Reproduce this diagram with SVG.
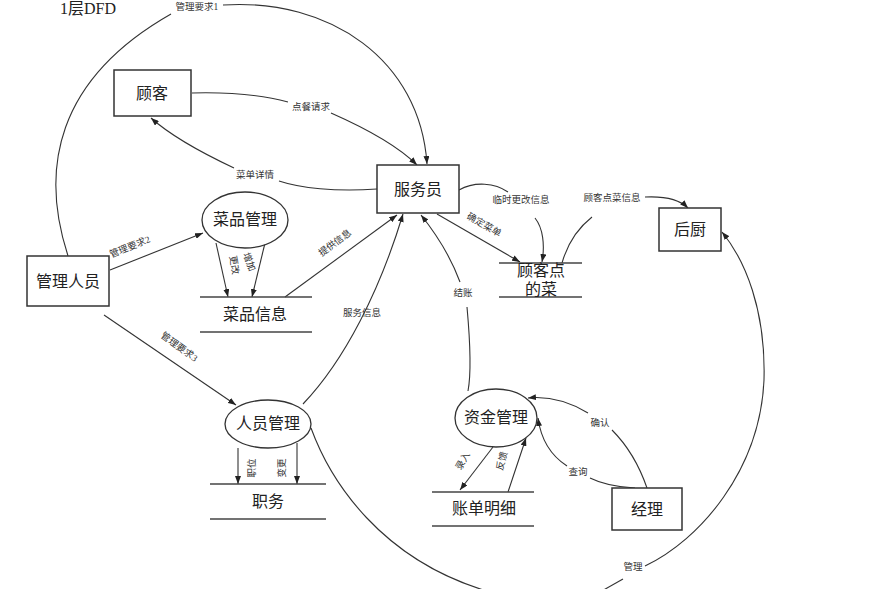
<svg xmlns="http://www.w3.org/2000/svg" width="879" height="589" viewBox="0 0 879 589">
  <defs>
    <marker id="arrow" viewBox="0 0 8 6" markerWidth="8" markerHeight="6" refX="8" refY="3" orient="auto" markerUnits="userSpaceOnUse">
      <path d="M0,0 L8,3 L0,6 z" fill="#222"/>
    </marker>
  </defs>
  <style>
    .bg { fill: #ffffff; }
    .box { fill: #ffffff; stroke: #333333; stroke-width: 1.5; }
    .proc { fill: #ffffff; stroke: #333333; stroke-width: 1.3; }
    .store { stroke: #444444; stroke-width: 1.6; }
    .flow { fill: none; stroke: #333333; stroke-width: 1.1; }
    .arr { marker-end: url(#arrow); }
    .name { font-family: "Liberation Serif", "Noto Sans CJK SC", serif; font-size: 16px; fill: #222222; text-anchor: middle; dominant-baseline: central; }
    .lbl { font-family: "Liberation Serif", "Noto Sans CJK SC", serif; font-size: 9.5px; fill: #333333; text-anchor: middle; dominant-baseline: central; }
    .title { font-family: "Liberation Serif", "Noto Sans CJK SC", serif; font-size: 16px; fill: #222222; }
  </style>

  <rect class="bg" x="0" y="0" width="879" height="589"/>
  <text class="title" x="60" y="14">1层DFD</text>

  <!-- connectors -->
  <g id="connectors">
    <!-- 管理要求1 -->
    <path class="flow" d="M68,256 C40,170 55,80 171,14"/>
    <path class="flow arr" d="M223,5 C330,-2 420,60 427,164"/>
    <!-- 点餐请求 -->
    <path class="flow" d="M192,93 C230,92 262,95 288,102"/>
    <path class="flow arr" d="M331,113 C365,128 397,145 417,165"/>
    <!-- 菜单详情 -->
    <path class="flow" d="M377,189 C335,192 300,188 279,181"/>
    <path class="flow arr" d="M234,168 C200,152 170,135 151,118"/>
    <!-- 临时更改信息 -->
    <path class="flow" d="M459,190 C475,181 495,183 508,192"/>
    <path class="flow arr" d="M535,218 C543,228 545,245 542,262"/>
    <!-- 顾客点菜信息 -->
    <path class="flow" d="M562,263 C568,242 578,228 592,217"/>
    <path class="flow arr" d="M645,197 C665,196 680,200 688,208"/>
    <!-- 确定菜单 -->
    <path class="flow arr" d="M437,214 L520,262"/>
    <!-- 提供信息 -->
    <path class="flow arr" d="M285,297 L397,215"/>
    <!-- 服务信息 -->
    <path class="flow arr" d="M303,404 C345,360 380,290 403,214"/>
    <!-- 管理要求2 / 管理要求3 -->
    <path class="flow arr" d="M110,270 L203,233"/>
    <path class="flow arr" d="M104,315 L236,405"/>
    <!-- 菜品管理 to 菜品信息 -->
    <path class="flow arr" d="M216,243 L228,297"/>
    <path class="flow arr" d="M265,243 L252,297"/>
    <!-- 人员管理 to 职务 -->
    <path class="flow arr" d="M238,448 L238,484"/>
    <path class="flow arr" d="M297,443 L297,484"/>
    <!-- 管理 -->
    <path class="flow" d="M311,428 C330,480 380,560 490,592"/>
    <path class="flow" d="M600,592 L623,579"/>
    <path class="flow arr" d="M645,566 C700,540 760,470 764,380 C766,310 745,260 722,232"/>
    <!-- 结账 -->
    <path class="flow" d="M468,391 C472,370 470,340 467,307"/>
    <path class="flow arr" d="M460,282 C450,255 437,235 421,215"/>
    <!-- 录入 / 反馈 -->
    <path class="flow arr" d="M493,447 L460,490"/>
    <path class="flow arr" d="M508,492 L526,438"/>
    <!-- 确认 -->
    <path class="flow" d="M647,488 C638,462 625,443 612,430"/>
    <path class="flow arr" d="M588,413 C568,401 548,396 528,398"/>
    <!-- 查询 -->
    <path class="flow" d="M635,488 C615,487 600,483 590,478"/>
    <path class="flow arr" d="M567,466 C550,455 541,440 538,418"/>

    <!-- flow labels -->
    <text class="lbl" x="197" y="7">管理要求1</text>
    <text class="lbl" x="311" y="107">点餐请求</text>
    <text class="lbl" x="255" y="175">菜单详情</text>
    <text class="lbl" x="521" y="200">临时更改信息</text>
    <text class="lbl" x="612" y="198">顾客点菜信息</text>
    <text class="lbl" transform="translate(484,225) rotate(30)">确定菜单</text>
    <text class="lbl" x="463" y="293">结账</text>
    <text class="lbl" transform="translate(335,243) rotate(-37)">提供信息</text>
    <text class="lbl" x="362" y="313">服务信息</text>
    <text class="lbl" transform="translate(130,247) rotate(-22)">管理要求2</text>
    <text class="lbl" transform="translate(179,347) rotate(36)">管理要求3</text>
    <text class="lbl" transform="translate(234,265) rotate(80)">更改</text>
    <text class="lbl" transform="translate(249,262) rotate(70)">增加</text>
    <text class="lbl" transform="translate(252,468) rotate(-90)">职位</text>
    <text class="lbl" transform="translate(282,468) rotate(-90)">变更</text>
    <text class="lbl" x="633" y="567">管理</text>
    <text class="lbl" x="600" y="423">确认</text>
    <text class="lbl" x="578" y="472">查询</text>
    <text class="lbl" transform="translate(463,461) rotate(-60)">录入</text>
    <text class="lbl" transform="translate(502,461) rotate(-75)">反馈</text>
  </g>

  <!-- external entities -->
  <g id="guke">
    <rect class="box" x="114" y="70" width="77" height="46"/>
    <text class="name" x="152" y="93">顾客</text>
  </g>
  <g id="fuwuyuan">
    <rect class="box" x="377" y="165" width="82" height="48"/>
    <text class="name" x="418" y="189">服务员</text>
  </g>
  <g id="houchu">
    <rect class="box" x="659" y="208" width="62" height="43"/>
    <text class="name" x="690" y="229">后厨</text>
  </g>
  <g id="guanlirenyuan">
    <rect class="box" x="27" y="256" width="82" height="50"/>
    <text class="name" x="68" y="281">管理人员</text>
  </g>
  <g id="jingli">
    <rect class="box" x="612" y="488" width="70" height="42"/>
    <text class="name" x="647" y="509">经理</text>
  </g>

  <!-- processes -->
  <g id="caipinguanli">
    <ellipse class="proc" cx="245" cy="220" rx="43" ry="28"/>
    <text class="name" x="245" y="219">菜品管理</text>
  </g>
  <g id="renyuanguanli">
    <ellipse class="proc" cx="268" cy="424" rx="43" ry="24"/>
    <text class="name" x="268" y="423">人员管理</text>
  </g>
  <g id="zijinguanli">
    <ellipse class="proc" cx="496" cy="418" rx="41" ry="29"/>
    <text class="name" x="496" y="417">资金管理</text>
  </g>

  <!-- data stores -->
  <g id="caipinxinxi">
    <line class="store" x1="200" y1="297" x2="312" y2="297"/>
    <line class="store" x1="200" y1="332" x2="312" y2="332"/>
    <text class="name" x="255" y="314">菜品信息</text>
  </g>
  <g id="zhiwu">
    <line class="store" x1="210" y1="484" x2="326" y2="484"/>
    <line class="store" x1="210" y1="519" x2="326" y2="519"/>
    <text class="name" x="268" y="501">职务</text>
  </g>
  <g id="gukediandecai">
    <line class="store" x1="499" y1="263" x2="582" y2="263"/>
    <line class="store" x1="499" y1="297" x2="582" y2="297"/>
    <text class="name" x="541" y="270">顾客点</text>
    <text class="name" x="541" y="289">的菜</text>
  </g>
  <g id="zhangdanmingxi">
    <line class="store" x1="432" y1="492" x2="534" y2="492"/>
    <line class="store" x1="432" y1="526" x2="534" y2="526"/>
    <text class="name" x="484" y="508">账单明细</text>
  </g>
</svg>
